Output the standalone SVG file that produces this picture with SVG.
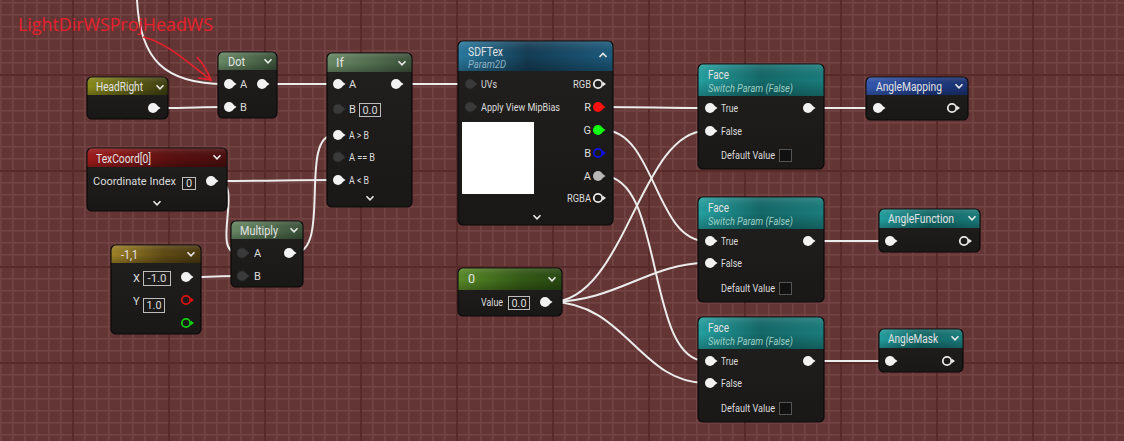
<svg xmlns="http://www.w3.org/2000/svg" xmlns:xlink="http://www.w3.org/1999/xlink" width="1124" height="441" viewBox="0 0 1124 441">
<defs>
  <pattern id="minor" x="0" y="2" width="12" height="12" patternUnits="userSpaceOnUse">
    <rect width="12" height="12" fill="#643535"/>
    <rect x="0" y="0" width="1.6" height="12" fill="#724343"/>
    <rect x="0" y="0" width="12" height="1.6" fill="#724343"/>
  </pattern>
  <pattern id="major" x="72" y="74" width="96" height="96" patternUnits="userSpaceOnUse">
    <rect x="0" y="0" width="2" height="96" fill="#582b2b"/>
    <rect x="0" y="0" width="96" height="2" fill="#582b2b"/>
  </pattern>
  <linearGradient id="body" x1="0" y1="0" x2="0" y2="1">
    <stop offset="0" stop-color="#22201e"/>
    <stop offset="1" stop-color="#1a1817"/>
  </linearGradient>
  <linearGradient id="hOlive" x1="0" y1="0" x2="1" y2="0">
    <stop offset="0" stop-color="#8c8c1c"/><stop offset="0.6" stop-color="#5a5a14"/><stop offset="1" stop-color="#3e3e12"/>
  </linearGradient>
  <linearGradient id="hSage" x1="0" y1="0" x2="1" y2="0">
    <stop offset="0" stop-color="#6a8a66"/><stop offset="0.6" stop-color="#4e6a4c"/><stop offset="1" stop-color="#3c523a"/>
  </linearGradient>
  <linearGradient id="hBlue" x1="0" y1="0" x2="1" y2="0">
    <stop offset="0" stop-color="#2a7aa0"/><stop offset="0.45" stop-color="#143c54"/><stop offset="1" stop-color="#1c5a7c"/>
  </linearGradient>
  <linearGradient id="hTeal" x1="0" y1="0" x2="1" y2="0">
    <stop offset="0" stop-color="#24a0a0"/><stop offset="0.5" stop-color="#146868"/><stop offset="1" stop-color="#1a7c7c"/>
  </linearGradient>
  <linearGradient id="hNavy" x1="0" y1="0" x2="1" y2="0">
    <stop offset="0" stop-color="#3458b0"/><stop offset="0.6" stop-color="#1e3a84"/><stop offset="1" stop-color="#1a3270"/>
  </linearGradient>
  <linearGradient id="hRed" x1="0" y1="0" x2="1" y2="0">
    <stop offset="0" stop-color="#a01c1c"/><stop offset="0.6" stop-color="#5c1010"/><stop offset="1" stop-color="#4a0e0e"/>
  </linearGradient>
  <linearGradient id="hGold" x1="0" y1="0" x2="1" y2="0">
    <stop offset="0" stop-color="#a08428"/><stop offset="0.6" stop-color="#5e4a14"/><stop offset="1" stop-color="#4a3a10"/>
  </linearGradient>
  <linearGradient id="hGreen" x1="0" y1="0" x2="1" y2="0">
    <stop offset="0" stop-color="#5a8c28"/><stop offset="0.6" stop-color="#345a16"/><stop offset="1" stop-color="#2a4a12"/>
  </linearGradient>
  <linearGradient id="hShade" x1="0" y1="0" x2="0" y2="1">
    <stop offset="0" stop-color="#ffffff" stop-opacity="0.12"/><stop offset="0.5" stop-color="#000000" stop-opacity="0"/><stop offset="1" stop-color="#000000" stop-opacity="0.25"/>
  </linearGradient>
  <g id="pinW"><circle r="5" fill="#f2f2f2"/><path d="M4,-2.5 L7.5,0 L4,2.5z" fill="#f2f2f2"/></g>
  <g id="pinD"><circle r="5" fill="#3a3a3a" stroke="#2a2a2a" stroke-width="1"/><path d="M4,-2.5 L7.5,0 L4,2.5z" fill="#3a3a3a"/></g>
  <g id="pinH"><circle r="4.2" fill="none" stroke="#e8e8e8" stroke-width="1.8"/><path d="M4.5,-2.5 L8,0 L4.5,2.5z" fill="#e8e8e8"/></g>
  <g id="chev"><path d="M-3.5,-1.8 L0,1.8 L3.5,-1.8" fill="none" stroke="#e8e8e8" stroke-width="1.6"/></g>
  <style>
    .nb { fill: url(#body); stroke: #0b0a0a; stroke-width: 1.2; }
    .t { font-family: Roboto, "Liberation Sans", sans-serif; font-size: 12.5px; fill: #e2e2e2; }
    .l { font-family: Roboto, "Liberation Sans", sans-serif; font-size: 11px; fill: #dcdcdc; }
    .s { font-family: Roboto, "Liberation Sans", sans-serif; font-size: 11px; font-style: italic; }
    .box { fill: none; stroke: #bdbdbd; stroke-width: 1; }
    .w { fill: none; stroke: #ececec; stroke-width: 2; }
    .e { text-anchor: end; }
    .m { text-anchor: middle; }
  </style>
</defs>

<rect width="1124" height="441" fill="url(#minor)"/>
<rect width="1124" height="441" fill="url(#major)"/>

<g id="connectors">
  <path class="w" d="M137,0 C140,60 165,84 225,84"/>
  <path class="w" d="M160,108 C190,108 200,107 225,107"/>
  <path class="w" d="M268,84 L334,84"/>
  <path class="w" d="M402,84 L466,84"/>
  <path class="w" d="M217,181 C270,181 290,180 334,180"/>
  <path class="w" d="M217,181 C245,181 210,253 238,253"/>
  <path class="w" d="M191,277 C210,277 220,276 238,276"/>
  <path class="w" d="M294,253 C332,253 298,135 334,135"/>
  <path class="w" d="M603,107 C650,107 660,108 706,108"/>
  <path class="w" d="M603,130 C655,130 655,241 706,241"/>
  <path class="w" d="M603,176 C665,176 645,361 706,361"/>
  <path class="w" d="M551,302 C625,302 640,131 706,131"/>
  <path class="w" d="M551,302 C615,302 650,263 706,263"/>
  <path class="w" d="M551,302 C625,302 640,383 706,383"/>
  <path class="w" d="M813,108 L874,108"/>
  <path class="w" d="M813,241 L886,241"/>
  <path class="w" d="M813,361 L886,361"/>
</g>

<g id="annotation">
  <text x="18" y="31" font-family="'Open Sans', 'Liberation Sans', sans-serif" font-size="18" fill="#e8202c" textLength="195" lengthAdjust="spacingAndGlyphs">LightDirWSProjHeadWS</text>
  <path d="M143,37 C165,42 185,60 211,80" fill="none" stroke="#e8202c" stroke-width="1.6"/>
  <path d="M197,57 C203,64 208,72 211,80 L198,78" fill="none" stroke="#e8202c" stroke-width="1.6"/>
</g>

<g id="node-headright">
  <rect class="nb" x="87" y="77" width="81" height="42" rx="5"/>
  <path d="M87.6,95 V82 a4.4,4.4 0 0 1 4.4,-4.4 H163 a4.4,4.4 0 0 1 4.4,4.4 V95z" fill="url(#hOlive)"/>
  <path d="M87.6,95 V82 a4.4,4.4 0 0 1 4.4,-4.4 H163 a4.4,4.4 0 0 1 4.4,4.4 V95z" fill="url(#hShade)"/>
  <text class="t" x="96" y="90.5" textLength="47" lengthAdjust="spacingAndGlyphs">HeadRight</text>
  <use href="#chev" x="160" y="87"/>
  <use href="#pinW" x="153" y="108"/>
</g>

<g id="node-dot">
  <rect class="nb" x="218" y="52" width="59" height="66" rx="5"/>
  <path d="M218.6,70 V57 a4.4,4.4 0 0 1 4.4,-4.4 H272 a4.4,4.4 0 0 1 4.4,4.4 V70z" fill="url(#hSage)"/>
  <path d="M218.6,70 V57 a4.4,4.4 0 0 1 4.4,-4.4 H272 a4.4,4.4 0 0 1 4.4,4.4 V70z" fill="url(#hShade)"/>
  <text class="t" x="228" y="66" textLength="17" lengthAdjust="spacingAndGlyphs">Dot</text>
  <use href="#chev" x="268" y="61"/>
  <use href="#pinW" x="229" y="84"/><text class="l" x="240" y="88">A</text>
  <use href="#pinW" x="262" y="84"/>
  <use href="#pinW" x="229" y="107"/><text class="l" x="240" y="111">B</text>
</g>

<g id="node-if">
  <rect class="nb" x="327" y="53" width="85" height="154" rx="5"/>
  <path d="M327.6,72 V58 a4.4,4.4 0 0 1 4.4,-4.4 H407 a4.4,4.4 0 0 1 4.4,4.4 V72z" fill="url(#hSage)"/>
  <path d="M327.6,72 V58 a4.4,4.4 0 0 1 4.4,-4.4 H407 a4.4,4.4 0 0 1 4.4,4.4 V72z" fill="url(#hShade)"/>
  <text class="t" x="336" y="67">If</text>
  <use href="#chev" x="402" y="63"/>
  <use href="#pinW" x="338" y="84"/><text class="l" x="349" y="88">A</text>
  <use href="#pinW" x="396" y="84"/>
  <use href="#pinD" x="338" y="109"/><text class="l" x="349" y="113">B</text>
  <rect class="box" x="359.5" y="103.5" width="21" height="13"/><text class="l m" x="370" y="114" textLength="15" lengthAdjust="spacingAndGlyphs">0.0</text>
  <use href="#pinW" x="338" y="135"/><text class="l" x="349" y="139" textLength="20" lengthAdjust="spacingAndGlyphs">A &gt; B</text>
  <use href="#pinD" x="338" y="157"/><text class="l" x="349" y="161" textLength="26" lengthAdjust="spacingAndGlyphs">A == B</text>
  <use href="#pinW" x="338" y="180"/><text class="l" x="349" y="184" textLength="20" lengthAdjust="spacingAndGlyphs">A &lt; B</text>
  <use href="#chev" x="370" y="198"/>
</g>

<g id="node-sdftex">
  <rect class="nb" x="458" y="41" width="155" height="184" rx="5"/>
  <path d="M458.6,71 V46 a4.4,4.4 0 0 1 4.4,-4.4 H608 a4.4,4.4 0 0 1 4.4,4.4 V71z" fill="url(#hBlue)"/>
  <path d="M458.6,71 V46 a4.4,4.4 0 0 1 4.4,-4.4 H608 a4.4,4.4 0 0 1 4.4,4.4 V71z" fill="url(#hShade)"/>
  <text class="t" x="468" y="55.5" textLength="35" lengthAdjust="spacingAndGlyphs">SDFTex</text>
  <text class="s" x="468" y="68" fill="#8fb2c4" textLength="38" lengthAdjust="spacingAndGlyphs">Param2D</text>
  <path d="M599.5,57 L603,53.5 L606.5,57" fill="none" stroke="#e8e8e8" stroke-width="1.6"/>
  <use href="#pinD" x="470" y="84"/><text class="l" x="481" y="88" textLength="16" lengthAdjust="spacingAndGlyphs">UVs</text>
  <use href="#pinD" x="470" y="107"/><text class="l" x="481" y="111" textLength="79" lengthAdjust="spacingAndGlyphs">Apply View MipBias</text>
  <rect x="462" y="122" width="72" height="72" fill="#ffffff"/>
  <text class="l e" x="591" y="88" textLength="18" lengthAdjust="spacingAndGlyphs">RGB</text><use href="#pinH" x="598" y="84"/>
  <text class="l e" x="591" y="111">R</text>
  <circle cx="598" cy="107" r="5" fill="#ff1010"/><path d="M602,104.5 L605.5,107 L602,109.5z" fill="#ff1010"/>
  <text class="l e" x="591" y="134">G</text>
  <circle cx="598" cy="130" r="5" fill="#10ff10"/><path d="M602,127.5 L605.5,130 L602,132.5z" fill="#10ff10"/>
  <text class="l e" x="591" y="157">B</text>
  <circle cx="598" cy="153" r="4.2" fill="none" stroke="#1010e8" stroke-width="1.8"/><path d="M602.5,150.5 L606,153 L602.5,155.5z" fill="#1010e8"/>
  <text class="l e" x="591" y="180">A</text>
  <circle cx="598" cy="176" r="5" fill="#b8b8b8"/><path d="M602,173.5 L605.5,176 L602,178.5z" fill="#b8b8b8"/>
  <text class="l e" x="591" y="202" textLength="24" lengthAdjust="spacingAndGlyphs">RGBA</text><use href="#pinH" x="598" y="198"/>
  <use href="#chev" x="537" y="217"/>
</g>

<g id="node-face1">
  <rect class="nb" x="698" y="64" width="126" height="105" rx="5"/>
  <path d="M698.6,96 V69 a4.4,4.4 0 0 1 4.4,-4.4 H819 a4.4,4.4 0 0 1 4.4,4.4 V96z" fill="url(#hTeal)"/>
  <path d="M698.6,96 V69 a4.4,4.4 0 0 1 4.4,-4.4 H819 a4.4,4.4 0 0 1 4.4,4.4 V96z" fill="url(#hShade)"/>
  <text class="t" x="708" y="78.5" textLength="21" lengthAdjust="spacingAndGlyphs">Face</text>
  <text class="s" x="708" y="91.5" fill="#9ccfc4" textLength="85" lengthAdjust="spacingAndGlyphs">Switch Param (False)</text>
  <use href="#pinW" x="710" y="108"/><text class="l" x="721" y="112" textLength="17" lengthAdjust="spacingAndGlyphs">True</text>
  <use href="#pinW" x="808" y="108"/>
  <use href="#pinW" x="710" y="131"/><text class="l" x="721" y="135" textLength="21" lengthAdjust="spacingAndGlyphs">False</text>
  <text class="l e" x="775" y="159" textLength="54" lengthAdjust="spacingAndGlyphs">Default Value</text>
  <rect x="779.5" y="149.5" width="12" height="12" fill="#111" stroke="#555" stroke-width="1"/>
</g>

<g id="node-face2">
  <rect class="nb" x="698" y="197" width="126" height="105" rx="5"/>
  <path d="M698.6,229 V202 a4.4,4.4 0 0 1 4.4,-4.4 H819 a4.4,4.4 0 0 1 4.4,4.4 V229z" fill="url(#hTeal)"/>
  <path d="M698.6,229 V202 a4.4,4.4 0 0 1 4.4,-4.4 H819 a4.4,4.4 0 0 1 4.4,4.4 V229z" fill="url(#hShade)"/>
  <text class="t" x="708" y="211.5" textLength="21" lengthAdjust="spacingAndGlyphs">Face</text>
  <text class="s" x="708" y="224.5" fill="#9ccfc4" textLength="85" lengthAdjust="spacingAndGlyphs">Switch Param (False)</text>
  <use href="#pinW" x="710" y="241"/><text class="l" x="721" y="245" textLength="17" lengthAdjust="spacingAndGlyphs">True</text>
  <use href="#pinW" x="808" y="241"/>
  <use href="#pinW" x="710" y="263"/><text class="l" x="721" y="267" textLength="21" lengthAdjust="spacingAndGlyphs">False</text>
  <text class="l e" x="775" y="292" textLength="54" lengthAdjust="spacingAndGlyphs">Default Value</text>
  <rect x="779.5" y="282.5" width="12" height="12" fill="#111" stroke="#555" stroke-width="1"/>
</g>

<g id="node-face3">
  <rect class="nb" x="698" y="317" width="126" height="105" rx="5"/>
  <path d="M698.6,349 V322 a4.4,4.4 0 0 1 4.4,-4.4 H819 a4.4,4.4 0 0 1 4.4,4.4 V349z" fill="url(#hTeal)"/>
  <path d="M698.6,349 V322 a4.4,4.4 0 0 1 4.4,-4.4 H819 a4.4,4.4 0 0 1 4.4,4.4 V349z" fill="url(#hShade)"/>
  <text class="t" x="708" y="331.5" textLength="21" lengthAdjust="spacingAndGlyphs">Face</text>
  <text class="s" x="708" y="344.5" fill="#9ccfc4" textLength="85" lengthAdjust="spacingAndGlyphs">Switch Param (False)</text>
  <use href="#pinW" x="710" y="361"/><text class="l" x="721" y="365" textLength="17" lengthAdjust="spacingAndGlyphs">True</text>
  <use href="#pinW" x="808" y="361"/>
  <use href="#pinW" x="710" y="383"/><text class="l" x="721" y="387" textLength="21" lengthAdjust="spacingAndGlyphs">False</text>
  <text class="l e" x="775" y="412" textLength="54" lengthAdjust="spacingAndGlyphs">Default Value</text>
  <rect x="779.5" y="402.5" width="12" height="12" fill="#111" stroke="#555" stroke-width="1"/>
</g>

<g id="node-anglemapping">
  <rect class="nb" x="866" y="77" width="102" height="43" rx="5"/>
  <path d="M866.6,95 V82 a4.4,4.4 0 0 1 4.4,-4.4 H963 a4.4,4.4 0 0 1 4.4,4.4 V95z" fill="url(#hNavy)"/>
  <path d="M866.6,95 V82 a4.4,4.4 0 0 1 4.4,-4.4 H963 a4.4,4.4 0 0 1 4.4,4.4 V95z" fill="url(#hShade)"/>
  <text class="t" x="876" y="90.5" textLength="66" lengthAdjust="spacingAndGlyphs">AngleMapping</text>
  <use href="#chev" x="959" y="86"/>
  <use href="#pinW" x="878" y="108"/>
  <use href="#pinH" x="952" y="108"/>
</g>

<g id="node-anglefunction">
  <rect class="nb" x="879" y="209" width="101" height="43" rx="5"/>
  <path d="M879.6,228 V214 a4.4,4.4 0 0 1 4.4,-4.4 H975 a4.4,4.4 0 0 1 4.4,4.4 V228z" fill="url(#hTeal)"/>
  <path d="M879.6,228 V214 a4.4,4.4 0 0 1 4.4,-4.4 H975 a4.4,4.4 0 0 1 4.4,4.4 V228z" fill="url(#hShade)"/>
  <text class="t" x="888" y="222.5" textLength="66" lengthAdjust="spacingAndGlyphs">AngleFunction</text>
  <use href="#chev" x="972" y="218"/>
  <use href="#pinW" x="890" y="241"/>
  <use href="#pinH" x="964" y="241"/>
</g>

<g id="node-anglemask">
  <rect class="nb" x="879" y="329" width="84" height="43" rx="5"/>
  <path d="M879.6,348 V334 a4.4,4.4 0 0 1 4.4,-4.4 H958 a4.4,4.4 0 0 1 4.4,4.4 V348z" fill="url(#hTeal)"/>
  <path d="M879.6,348 V334 a4.4,4.4 0 0 1 4.4,-4.4 H958 a4.4,4.4 0 0 1 4.4,4.4 V348z" fill="url(#hShade)"/>
  <text class="t" x="888" y="342.5" textLength="50" lengthAdjust="spacingAndGlyphs">AngleMask</text>
  <use href="#chev" x="955" y="338"/>
  <use href="#pinW" x="890" y="361"/>
  <use href="#pinH" x="947" y="361"/>
</g>

<g id="node-texcoord">
  <rect class="nb" x="87" y="148" width="140" height="63" rx="5"/>
  <path d="M87.6,167 V153 a4.4,4.4 0 0 1 4.4,-4.4 H222 a4.4,4.4 0 0 1 4.4,4.4 V167z" fill="url(#hRed)"/>
  <path d="M87.6,167 V153 a4.4,4.4 0 0 1 4.4,-4.4 H222 a4.4,4.4 0 0 1 4.4,4.4 V167z" fill="url(#hShade)"/>
  <text class="t" x="96" y="162.5" textLength="55" lengthAdjust="spacingAndGlyphs">TexCoord[0]</text>
  <use href="#chev" x="217" y="157"/>
  <text class="l e" x="176" y="185" font-size="9.5">Coordinate Index</text>
  <rect class="box" x="182.5" y="177.5" width="13" height="12"/><text class="l" x="186" y="187" font-size="10">0</text>
  <use href="#pinW" x="211" y="181"/>
  <use href="#chev" x="157" y="203"/>
</g>

<g id="node-multiply">
  <rect class="nb" x="231" y="221" width="72" height="66" rx="5"/>
  <path d="M231.6,239 V226 a4.4,4.4 0 0 1 4.4,-4.4 H298 a4.4,4.4 0 0 1 4.4,4.4 V239z" fill="url(#hSage)"/>
  <path d="M231.6,239 V226 a4.4,4.4 0 0 1 4.4,-4.4 H298 a4.4,4.4 0 0 1 4.4,4.4 V239z" fill="url(#hShade)"/>
  <text class="t" x="240" y="234.5" textLength="38" lengthAdjust="spacingAndGlyphs">Multiply</text>
  <use href="#chev" x="294" y="230"/>
  <use href="#pinD" x="242" y="253"/><text class="l" x="254" y="257">A</text>
  <use href="#pinW" x="289" y="253"/>
  <use href="#pinD" x="242" y="276"/><text class="l" x="254" y="280">B</text>
</g>

<g id="node-minus1-1">
  <rect class="nb" x="111" y="245" width="90" height="89" rx="5"/>
  <path d="M111.6,263 V250 a4.4,4.4 0 0 1 4.4,-4.4 H196 a4.4,4.4 0 0 1 4.4,4.4 V263z" fill="url(#hGold)"/>
  <path d="M111.6,263 V250 a4.4,4.4 0 0 1 4.4,-4.4 H196 a4.4,4.4 0 0 1 4.4,4.4 V263z" fill="url(#hShade)"/>
  <text class="t" x="121" y="258.5" textLength="17" lengthAdjust="spacingAndGlyphs">-1,1</text>
  <use href="#chev" x="191" y="254"/>
  <text class="l" x="133" y="282">X</text>
  <rect class="box" x="143.5" y="271.5" width="27" height="14"/><text class="l m" x="157" y="282" textLength="19" lengthAdjust="spacingAndGlyphs">-1.0</text>
  <use href="#pinW" x="186" y="277"/>
  <text class="l" x="133" y="305">Y</text>
  <rect class="box" x="143.5" y="298.5" width="21" height="14"/><text class="l m" x="154" y="309" textLength="15" lengthAdjust="spacingAndGlyphs">1.0</text>
  <circle cx="186" cy="300" r="4.2" fill="none" stroke="#e01010" stroke-width="1.8"/><path d="M190.5,297.5 L194,300 L190.5,302.5z" fill="#e01010"/>
  <circle cx="186" cy="323" r="4.2" fill="none" stroke="#10d010" stroke-width="1.8"/><path d="M190.5,320.5 L194,323 L190.5,325.5z" fill="#10d010"/>
</g>

<g id="node-zero">
  <rect class="nb" x="458" y="268" width="104" height="48" rx="5"/>
  <path d="M458.6,290 V273 a4.4,4.4 0 0 1 4.4,-4.4 H557 a4.4,4.4 0 0 1 4.4,4.4 V290z" fill="url(#hGreen)"/>
  <path d="M458.6,290 V273 a4.4,4.4 0 0 1 4.4,-4.4 H557 a4.4,4.4 0 0 1 4.4,4.4 V290z" fill="url(#hShade)"/>
  <text class="t" x="468" y="282.5">0</text>
  <use href="#chev" x="552" y="279"/>
  <text class="l e" x="503" y="306" textLength="22" lengthAdjust="spacingAndGlyphs">Value</text>
  <rect class="box" x="508.5" y="296.5" width="21" height="13"/><text class="l m" x="519" y="307" textLength="15" lengthAdjust="spacingAndGlyphs">0.0</text>
  <use href="#pinW" x="545" y="302"/>
</g>
</svg>
